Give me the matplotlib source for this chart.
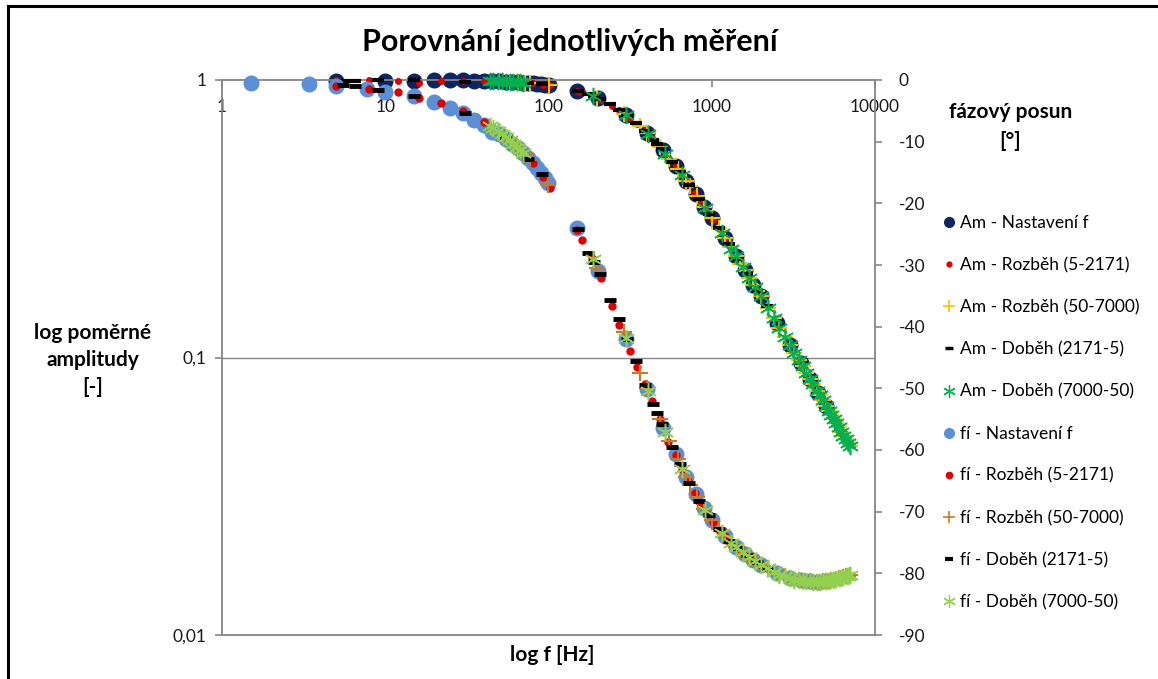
import numpy as np
import matplotlib
matplotlib.use('Agg')
import matplotlib.pyplot as plt
from matplotlib.lines import Line2D
from matplotlib.ticker import NullLocator

plt.rcParams['font.family'] = ['Lato', 'DejaVu Sans']

# ---------------- data ----------------
# Nastavení f
f_nast = [1.5, 3.4, 5, 7.7, 10, 15, 20, 25, 30, 35, 40, 45, 50, 55, 60, 65, 70, 75, 80, 85,
          90, 95, 100, 150, 200, 300, 400, 500, 600, 700, 800, 900, 1000, 1200, 1400, 1600,
          1800, 2000, 2500, 3000, 3500, 4000, 4500, 5000]
am_nast = [None, None, 0.995, None, 0.995, 0.993, 0.998, 0.997, 0.996, 0.995, 0.993, 0.991,
           0.989, 0.987, 0.984, 0.982, 0.979, 0.976, 0.973, 0.969, 0.966, 0.962, 0.958, 0.913,
           0.859, 0.746, 0.643, 0.558, 0.489, 0.433, 0.387, 0.350, 0.319, 0.270, 0.233, 0.206,
           0.183, 0.166, 0.133, 0.111, 0.0955, 0.0837, 0.0745, 0.067]
fi_nast = [-0.5, -0.6, -1.0, -1.5, -1.9, -2.6, -3.6, -4.5, -5.4, -6.5, -7.3, -8.4, -8.8, -9.6,
           -10.3, -11.1, -11.9, -12.7, -13.5, -14.3, -15.1, -15.9, -16.7, -24.0, -31.0, -42.0,
           -50.1, -56.4, -60.6, -64.3, -67.2, -69.4, -71.3, -74.0, -75.7, -76.8, -77.8, -78.6,
           -80.0, -80.8, -81.1, -81.3, -81.4, -81.3]

# Rozběh (5-2171)
f_rozb1 = [5, 8, 12, 16, 22, 30, 40, 52, 66, 80, 92, 102, 150, 161, 185, 209, 245, 270, 315,
           348, 390, 430, 480, 540, 600, 660, 720, 790, 860, 940, 1020, 1110, 1200, 1300, 1420,
           1540, 1680, 1830, 2000, 2171]
am_rozb1 = [0.997, 0.996, 0.994, 0.975, 0.992, 0.995, 0.990, 0.987, 0.981, 0.972, 0.962, 0.956,
            0.913, 0.902, 0.876, 0.849, 0.808, 0.780, 0.729, 0.695, 0.653, 0.616, 0.573, 0.528,
            0.489, 0.454, 0.423, 0.391, 0.364, 0.337, 0.313, 0.290, 0.270, 0.250, 0.230, 0.213,
            0.196, 0.181, 0.166, 0.153]
fi_rozb1 = [-0.9, -1.4, -2.0, -2.9, -3.7, -5.1, -6.8, -8.8, -11.1, -13.4, -15.7, -17.5, -24.3,
            -26.0, -28.8, -32.1, -36.6, -39.7, -44.0, -46.5, -49.3, -52.0, -55.0, -58.7, -60.8,
            -63.0, -65.0, -67.0, -68.7, -70.3, -71.6, -72.9, -74.0, -75.0, -75.9, -76.6, -77.3,
            -78.0, -78.6, -79.1]

# Rozběh (50-7000)
f_rozb2 = [50, 58, 65, 72, 77, 100, 198, 290, 362, 400, 480, 550, 620, 700, 740, 815, 900, 1000,
           1100, 1200, 1300, 1400, 1500, 1600, 1700, 1800, 1900, 2000, 2200, 2400, 2600, 2800,
           3000, 3200, 3400, 3600, 3800, 4000, 4200, 4400, 4600, 4800, 5000, 5200, 5400, 5600,
           5800, 6000, 6200, 6400, 6600, 6800, 7000]
am_rozb2 = [0.989, 0.985, 0.982, 0.978, 0.975, 0.958, 0.862, 0.757, 0.680, 0.643, 0.573, 0.521,
            0.477, 0.433, 0.414, 0.381, 0.350, 0.319, 0.292, 0.270, 0.250, 0.233, 0.218, 0.206,
            0.194, 0.183, 0.174, 0.166, 0.151, 0.139, 0.128, 0.119, 0.111, 0.104, 0.098, 0.093,
            0.088, 0.084, 0.080, 0.076, 0.073, 0.070, 0.067, 0.064, 0.062, 0.060, 0.058, 0.056,
            0.054, 0.052, 0.051, 0.049, 0.048]
fi_rozb2 = [-8.5, -9.8, -11.0, -12.1, -12.9, -17.0, -30.5, -40.8, -47.5, -50.0, -55.0, -58.6,
            -61.5, -64.3, -65.6, -67.6, -69.5, -71.3, -72.8, -74.0, -75.0, -75.7, -76.3, -76.8,
            -77.3, -77.8, -78.2, -78.6, -79.2, -79.8, -80.2, -80.5, -80.8, -81.0, -81.1, -81.2,
            -81.3, -81.3, -81.4, -81.4, -81.4, -81.3, -81.3, -81.2, -81.1, -81.0, -80.9, -80.8,
            -80.7, -80.6, -80.5, -80.4, -80.3]

# Doběh (2171-5)
f_dob1 = [2171, 1900, 1650, 1450, 1270, 1100, 960, 840, 730, 640, 570, 495, 460, 437, 390, 343,
          302, 270, 237, 206, 190, 175, 151, 91, 75, 55, 31, 15, 9, 6.5, 5.5]
am_dob1 = [0.153, 0.174, 0.200, 0.226, 0.256, 0.292, 0.330, 0.371, 0.418, 0.465, 0.508, 0.562,
           0.590, 0.610, 0.653, 0.700, 0.744, 0.780, 0.817, 0.853, 0.870, 0.887, 0.912, 0.965,
           0.976, 0.987, 0.983, 0.999, 0.998, 0.995, 0.995]
fi_dob1 = [-79.1, -78.2, -77.0, -75.9, -74.7, -72.8, -70.5, -68.2, -65.3, -62.3, -59.5, -55.8,
           -54.0, -52.5, -49.5, -45.6, -42.0, -38.8, -35.7, -31.5, -29.5, -28.0, -24.2, -15.3,
           -12.8, -9.3, -5.4, -2.6, -1.6, -1.0, -0.8]

# Doběh (7000-50)
f_dob2 = [7000, 6800, 6600, 6400, 6200, 6000, 5800, 5600, 5400, 5200, 5000, 4800, 4600, 4400,
          4200, 4000, 3800, 3600, 3400, 3200, 3000, 2800, 2600, 2400, 2200, 2000, 1850, 1700,
          1550, 1400, 1320, 1150, 910, 660, 520, 407, 300, 187, 70, 67, 64, 61, 58, 55, 52, 49,
          46, 44]
am_dob2 = [0.048, 0.049, 0.051, 0.052, 0.054, 0.056, 0.058, 0.060, 0.062, 0.064, 0.067, 0.070,
           0.073, 0.076, 0.080, 0.084, 0.088, 0.093, 0.098, 0.104, 0.111, 0.119, 0.128, 0.139,
           0.151, 0.166, 0.179, 0.194, 0.212, 0.233, 0.247, 0.281, 0.346, 0.454, 0.543, 0.637,
           0.746, 0.874, 0.979, 0.981, 0.982, 0.984, 0.985, 0.987, 0.988, 0.990, 0.991, 0.992]
fi_dob2 = [-80.3, -80.4, -80.5, -80.6, -80.7, -80.8, -80.9, -81.0, -81.1, -81.2, -81.3, -81.3,
           -81.4, -81.4, -81.4, -81.3, -81.3, -81.2, -81.1, -81.0, -80.8, -80.5, -80.2, -79.8,
           -79.2, -78.6, -78.0, -77.3, -76.5, -75.7, -75.1, -73.4, -69.7, -63.0, -57.1, -50.4,
           -41.8, -29.1, -11.8, -11.3, -10.8, -10.3, -9.8, -9.3, -8.8, -8.3, -7.8, -7.5]

x_ticks = [1, 10, 100, 1000, 10000]
x_ticklabels = ['1', '10', '100', '1000', '10000']
y_ticks = [0.01, 0.1, 1]
y_ticklabels = ['0,01', '0,1', '1']
y2_ticks = [0, -10, -20, -30, -40, -50, -60, -70, -80, -90]

labels = ['Am - Nastavení f', 'Am - Rozběh (5-2171)', 'Am - Rozběh (50-7000)',
          'Am - Doběh (2171-5)', 'Am - Doběh (7000-50)',
          'fí - Nastavení f', 'fí - Rozběh (5-2171)', 'fí - Rozběh (50-7000)',
          'fí - Doběh (2171-5)', 'fí - Doběh (7000-50)']

# ---------------- figure ----------------
W, H = 1158, 679
fig = plt.figure(figsize=(W / 100, H / 100), dpi=100)
L, R, T, B = 222, 875, 80, 635
ax = fig.add_axes([L / W, 1 - B / H, (R - L) / W, (B - T) / H])
ax.set_xscale('log')
ax.set_yscale('log')
ax.set_xlim(1, 10000)
ax.set_ylim(0.01, 1)
ax2 = ax.twinx()
ax2.set_ylim(-90, 0)

gray = '#868686'
for s in ['top', 'left', 'bottom']:
    ax.spines[s].set_color(gray)
    ax.spines[s].set_linewidth(1.3)
ax.spines['right'].set_visible(False)
for s in ['top', 'left', 'bottom']:
    ax2.spines[s].set_visible(False)
ax2.spines['right'].set_color(gray)
ax2.spines['right'].set_linewidth(1.3)

ax.axhline(0.1, color=gray, lw=1.0, zorder=0)

ax.xaxis.tick_top()
ax.set_xticks(x_ticks)
ax.set_xticklabels(x_ticklabels)
ax.xaxis.set_minor_locator(NullLocator())
ax.tick_params(axis='x', which='major', direction='in', length=5, color=gray, width=1.2,
               labelsize=12.5, pad=-25, top=True, bottom=False, labeltop=True,
               labelbottom=False, labelcolor='#1a1a1a')
ax.set_yticks(y_ticks)
ax.set_yticklabels(y_ticklabels)
ax.yaxis.set_minor_locator(NullLocator())
ax.tick_params(axis='y', which='major', direction='out', length=5, color=gray, width=1.2,
               labelsize=12.5, pad=6, labelcolor='#1a1a1a')
ax2.set_yticks(y2_ticks)
ax2.set_yticklabels([str(v) for v in y2_ticks])
ax2.tick_params(axis='y', direction='out', length=5, color=gray, width=1.2,
                labelsize=12.5, pad=12, labelcolor='#1a1a1a')

navy = '#0c2460'
red = '#e00000'
gold = '#ffc000'
green = '#00b050'
lblue = '#5b8fd6'
brown = '#c87a28'
lgreen = '#92d050'
ast = (6, 2, 0)

def arr(v):
    return np.array(v, dtype=float)

kw = dict(linestyle='none', clip_on=False)
ax.plot(f_nast, arr(am_nast), marker='o', ms=10.5, color=navy, mec=navy, zorder=2, **kw)
ax.plot(f_rozb1, am_rozb1, marker='o', ms=4, color=red, mec=red, zorder=3, **kw)
ax.plot(f_rozb2, am_rozb2, marker='+', ms=11, mew=1.5, color=gold, zorder=4, **kw)
ax.plot(f_dob1, am_dob1, marker='_', ms=9, mew=3, color='black', zorder=5, **kw)
ax.plot(f_dob2, am_dob2, marker=ast, ms=12.5, mew=1.1, color=green, zorder=6, **kw)

ax2.plot(f_nast, fi_nast, marker='o', ms=10.5, color=lblue, mec=lblue, zorder=2, **kw)
ax2.plot(f_rozb1, fi_rozb1, marker='o', ms=5, color=red, mec=red, zorder=3, **kw)
ax2.plot(f_rozb2, fi_rozb2, marker='+', ms=12, mew=1.5, color=brown, zorder=4, **kw)
ax2.plot(f_dob1, fi_dob1, marker='_', ms=9, mew=3.5, color='black', zorder=5, **kw)
ax2.plot(f_dob2, fi_dob2, marker=ast, ms=12.5, mew=1.1, color=lgreen, zorder=6, **kw)

handles = [
    Line2D([], [], ls='none', marker='o', ms=7, color=navy),
    Line2D([], [], ls='none', marker='o', ms=3.5, color=red),
    Line2D([], [], ls='none', marker='+', ms=9, mew=1.2, color=gold),
    Line2D([], [], ls='none', marker='_', ms=6, mew=2.5, color='black'),
    Line2D([], [], ls='none', marker=ast, ms=9, mew=0.9, color=green),
    Line2D([], [], ls='none', marker='o', ms=7, color=lblue),
    Line2D([], [], ls='none', marker='o', ms=4.5, color=red),
    Line2D([], [], ls='none', marker='+', ms=9, mew=1.2, color=brown),
    Line2D([], [], ls='none', marker='_', ms=6, mew=3, color='black'),
    Line2D([], [], ls='none', marker=ast, ms=9, mew=0.9, color=lgreen),
]
fig.legend(handles, labels, loc='upper left', bbox_to_anchor=(942 / W, 1 - 215 / H),
           frameon=False, fontsize=12.5, labelspacing=1.5, handlelength=0.8,
           handletextpad=0.25, borderaxespad=0, borderpad=0)

# texts
fig.text(570 / W, 1 - 42 / H, 'Porovnání jednotlivých měření', ha='center', va='center',
         fontsize=22, fontweight='bold')
fig.text(552 / W, 1 - 655 / H, 'log f [Hz]', ha='center', va='center', fontsize=15,
         fontweight='bold')
fig.text(93 / W, 1 - 360 / H, 'log poměrné\namplitudy\n[-]', ha='center', va='center',
         fontsize=15, fontweight='bold', linespacing=1.45)
fig.text(1011 / W, 1 - 112 / H, 'fázový posun', ha='center', va='center', fontsize=15,
         fontweight='bold')
fig.text(1010 / W, 1 - 141 / H, '[°]', ha='center', va='center', fontsize=15,
         fontweight='bold')

# outer frame (top and left edges visible)
fig.add_artist(Line2D([8 / W, 1.0], [1 - 6 / H, 1 - 6 / H], color='black', lw=2.2,
                      transform=fig.transFigure))
fig.add_artist(Line2D([8 / W, 8 / W], [0.0, 1 - 6 / H], color='black', lw=2.2,
                      transform=fig.transFigure))

fig.savefig('out.png', dpi=100)
